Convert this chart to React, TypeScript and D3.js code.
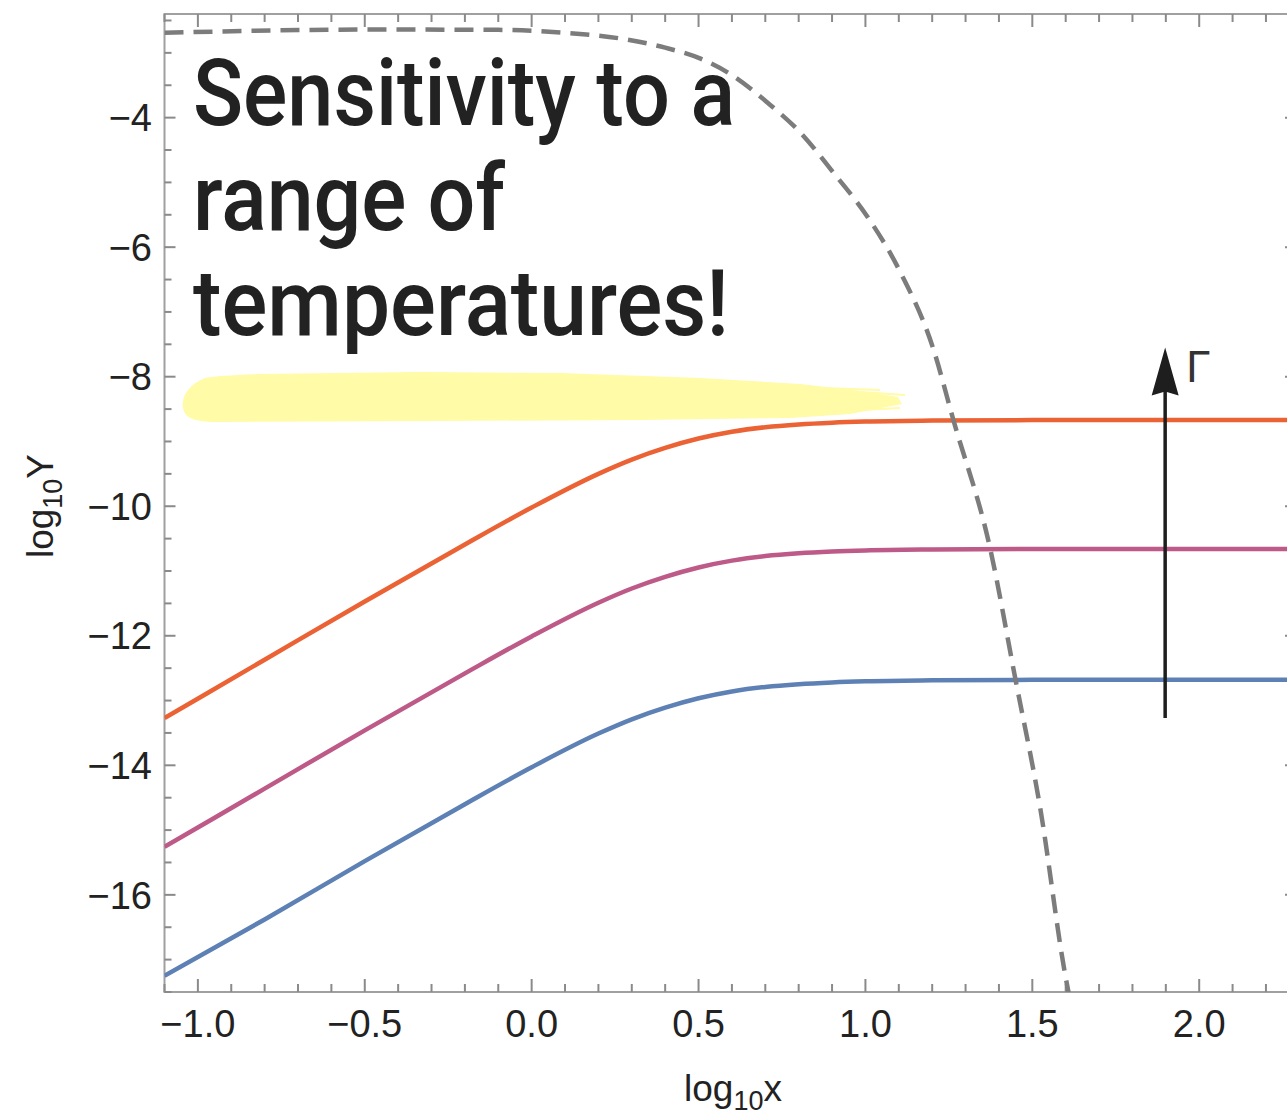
import React from "react";
import * as d3 from "d3";

const W = 1287;
const H = 1115;

// axis definitions
const xDomain = [-1.1, 2.29];
const yDomain = [-17.5, -2.4];
const xMajorTicks = [-1.0, -0.5, 0.0, 0.5, 1.0, 1.5, 2.0];
const xTickLabels = ["−1.0", "−0.5", "0.0", "0.5", "1.0", "1.5", "2.0"];
const yMajorTicks = [-16, -14, -12, -10, -8, -6, -4];
const yTickLabels = ["−16", "−14", "−12", "−10", "−8", "−6", "−4"];

// curves
const curveX = [-1.1, -0.8, -0.5, -0.2, 0.0, 0.2, 0.3, 0.4, 0.5, 0.6, 0.7, 0.8, 0.9, 1.0, 1.2, 1.5, 2.29];
const redY = [-13.27, -12.37, -11.47, -10.59, -10.02, -9.5, -9.28, -9.1, -8.955, -8.85, -8.78, -8.737, -8.71, -8.693, -8.678, -8.67, -8.67];
const pinkY = [-15.26, -14.36, -13.46, -12.58, -12.01, -11.49, -11.27, -11.09, -10.945, -10.84, -10.77, -10.727, -10.7, -10.683, -10.668, -10.66, -10.66];
const blueY = [-17.25, -16.38, -15.48, -14.6, -14.03, -13.51, -13.29, -13.11, -12.965, -12.86, -12.79, -12.747, -12.72, -12.703, -12.688, -12.68, -12.68];

const dashX = [-1.1, -0.84, -0.47, -0.1, 0.1, 0.28, 0.4, 0.506, 0.605, 0.707, 0.805, 0.904, 1.006, 1.105, 1.204, 1.263, 1.374, 1.449, 1.524, 1.599, 1.62];
const dashY = [-2.69, -2.66, -2.64, -2.645, -2.69, -2.79, -2.92, -3.09, -3.36, -3.77, -4.23, -4.85, -5.53, -6.39, -7.58, -8.66, -10.66, -12.66, -14.67, -17.25, -17.8];

const titleLines = ["Sensitivity to a", "range of", "temperatures!"];
const titleWidths = [542, 312, 536];

const arrowFrom = -13.27;
const arrowTo = -7.55;
const arrowX = 1.898;

export default function App() {
  const x = d3.scaleLinear().domain(xDomain).range([164.5, 1296]);
  const y = d3.scaleLinear().domain(yDomain).range([992, 14]);

  const line = d3
    .line<number>()
    .x((_, i) => x(curveX[i]))
    .y((d) => y(d))
    .curve(d3.curveMonotoneX);
  const dashLine = d3
    .line<number>()
    .x((_, i) => x(dashX[i]))
    .y((d) => y(d))
    .curve(d3.curveMonotoneX);

  const xMinor = d3.range(-11, 23).map((v) => v / 10).filter((v) => !xMajorTicks.some((m) => Math.abs(m - v) < 1e-6));
  const yMinor = d3.range(-35, -4).map((v) => v / 2).filter((v) => !yMajorTicks.includes(v));

  const left = x(xDomain[0]);
  const right = x(xDomain[1]);
  const top = y(yDomain[1]);
  const bottom = y(yDomain[0]);

  const tickColor = "#8a8a8a";
  const labelFont = "'Liberation Sans', Arial, Helvetica, sans-serif";

  const ax = x(arrowX);
  const ay0 = y(arrowFrom);
  const ay1 = y(arrowTo);

  return (
    <div style={{ position: "absolute", left: 0, top: 0, width: W, height: H, overflow: "hidden", background: "#fff" }}>
      <svg width={W} height={H} style={{ display: "block" }}>
        <defs>
          <clipPath id="plotClip">
            <rect x={left} y={top} width={right - left} height={bottom - top} />
          </clipPath>
        </defs>

        {/* yellow highlight */}
        <path
          d="M 205,378 C 188,385 181,397 183,408 C 185,418 193,421 212,422 L 430,421 L 640,420 L 790,418 L 850,414 L 902,404 L 898,397 L 860,391 L 800,384 L 700,378 L 560,373 L 420,372 L 260,374 C 232,375 214,376 205,378 Z"
          fill="#fffba6"
        />
        <g stroke="#fffba6" strokeWidth={2} fill="none">
          <line x1={800} y1={388} x2={905} y2={395} />
          <line x1={820} y1={412} x2={900} y2={408} />
          <line x1={760} y1={386} x2={880} y2={390} />
        </g>

        {/* frame */}
        <rect x={left} y={top} width={right - left} height={bottom - top} fill="none" stroke="#a0a0a0" strokeWidth={2} />

        {/* ticks */}
        <g stroke={tickColor} strokeWidth={2}>
          {xMajorTicks.map((t) => (
            <g key={"xm" + t}>
              <line x1={x(t)} x2={x(t)} y1={bottom} y2={bottom - 13} />
              <line x1={x(t)} x2={x(t)} y1={top} y2={top + 13} />
            </g>
          ))}
          {xMinor.map((t) => (
            <g key={"xn" + t}>
              <line x1={x(t)} x2={x(t)} y1={bottom} y2={bottom - 8} />
              <line x1={x(t)} x2={x(t)} y1={top} y2={top + 8} />
            </g>
          ))}
          {yMajorTicks.map((t) => (
            <g key={"ym" + t}>
              <line x1={left} x2={left + 11} y1={y(t)} y2={y(t)} />
              <line x1={right} x2={right - 11} y1={y(t)} y2={y(t)} />
            </g>
          ))}
          {yMinor.map((t) => (
            <g key={"yn" + t}>
              <line x1={left} x2={left + 7} y1={y(t)} y2={y(t)} />
              <line x1={right} x2={right - 7} y1={y(t)} y2={y(t)} />
            </g>
          ))}
        </g>

        {/* tick labels */}
        <g fontFamily={labelFont} fontSize={38} fill="#222">
          {xMajorTicks.map((t, i) => (
            <text key={"xl" + t} x={x(t)} y={1037} textAnchor="middle">
              {xTickLabels[i]}
            </text>
          ))}
          {yMajorTicks.map((t, i) => (
            <text key={"yl" + t} x={152} y={y(t)} dy="0.36em" textAnchor="end">
              {yTickLabels[i]}
            </text>
          ))}
        </g>

        {/* axis titles */}
        <text x={733} y={1101} textAnchor="middle" fontFamily={labelFont} fontSize={37} fill="#222">
          log
          <tspan fontSize={27} dy={9}>10</tspan>
          <tspan dy={-9}>x</tspan>
        </text>
        <text transform="translate(53,506) rotate(-90)" textAnchor="middle" fontFamily={labelFont} fontSize={37} fill="#222">
          log
          <tspan fontSize={27} dy={9}>10</tspan>
          <tspan dy={-9}>Y</tspan>
        </text>

        {/* curves */}
        <g clipPath="url(#plotClip)" fill="none" strokeLinecap="butt">
          <path d={line(blueY) || ""} stroke="#5e81b5" strokeWidth={4.5} />
          <path d={line(pinkY) || ""} stroke="#bd5a87" strokeWidth={4.5} />
          <path d={line(redY) || ""} stroke="#eb6235" strokeWidth={4.5} />
          <path d={dashLine(dashY) || ""} stroke="#7c7c7c" strokeWidth={4.5} strokeDasharray="19,10" />
        </g>

        {/* arrow */}
        <line x1={ax} x2={ax} y1={ay0} y2={ay1 + 30} stroke="#1e1e1e" strokeWidth={3.5} />
        <path
          d={`M ${ax},${ay1} L ${ax + 13.5},${ay1 + 48} L ${ax},${ay1 + 44} L ${ax - 13.5},${ay1 + 48} Z`}
          fill="#1e1e1e"
        />
        <text x={ax + 21} y={382} fontFamily={labelFont} fontSize={44} fill="#333">
          Γ
        </text>

        {/* title */}
        <g fontFamily="Roboto, 'Noto Sans', sans-serif" fontWeight={500} fontSize={93} fill="#222">
          {titleLines.map((t, i) => (
            <text key={t} x={193} y={125 + i * 105} textLength={titleWidths[i]} lengthAdjust="spacingAndGlyphs">
              {t}
            </text>
          ))}
        </g>
      </svg>
    </div>
  );
}
